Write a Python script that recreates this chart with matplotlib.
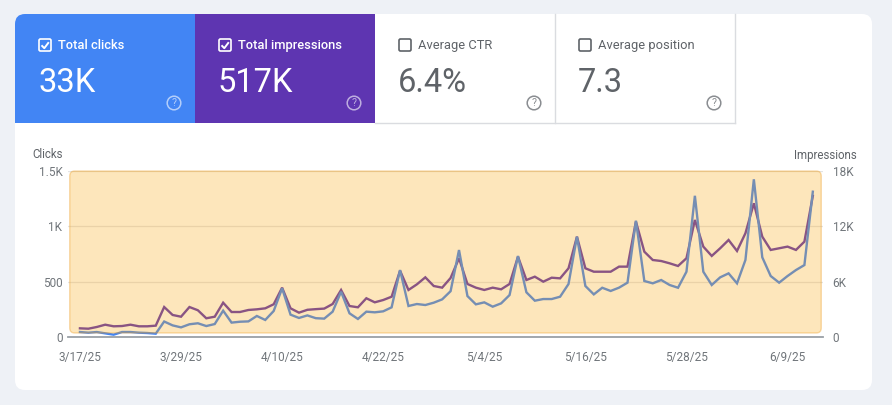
import numpy as np
import pandas as pd
import matplotlib
matplotlib.use("Agg")
import matplotlib.pyplot as plt
from matplotlib.patches import FancyBboxPatch, Rectangle, Circle

plt.rcParams['font.family'] = ['Roboto', 'DejaVu Sans']

# daily data, 3/17/25 .. 6/12/25
start_date = "2025-03-17"
clicks = [45, 39, 45, 33, 21, 45, 45, 39, 36, 30,
          140, 105, 87, 115, 124, 99, 117, 238, 130, 138,
          141, 190, 154, 235, 440, 202, 172, 195, 170, 166,
          229, 409, 214, 163, 229, 223, 232, 268, 605, 280,
          298, 289, 310, 340, 414, 786, 370, 295, 313, 274,
          304, 379, 732, 404, 328, 343, 343, 364, 479, 906,
          461, 385, 445, 416, 446, 491, 1051, 506, 485, 515,
          470, 445, 590, 1276, 590, 470, 539, 575, 485, 696,
          1425, 720, 551, 491, 551, 605, 650, 1313]
impressions = [940, 900, 1085, 1335, 1160, 1190, 1335, 1160, 1160, 1230,
               3250, 2390, 2200, 3250, 2900, 2030, 2200, 3720, 2710, 2710,
               2930, 3000, 3110, 3550, 5350, 3110, 2640, 2950, 3020, 3080,
               3580, 5100, 3360, 3220, 4200, 3760, 4010, 4370, 7190, 5100,
               5710, 6470, 5530, 5350, 6400, 8540, 5750, 5350, 5100, 5350,
               5170, 5750, 8710, 6180, 6540, 6000, 6430, 6360, 7450, 10880,
               7450, 7080, 7080, 7080, 7630, 7630, 12510, 9250, 8350, 8240,
               7990, 7700, 8540, 12690, 9800, 8790, 9620, 10520, 9330, 11250,
               14500, 10880, 9440, 9620, 9800, 9440, 10340, 15300]

x_tick_dates = ["2025-03-17", "2025-03-29", "2025-04-10", "2025-04-22",
                "2025-05-04", "2025-05-16", "2025-05-28", "2025-06-09"]
x_tick_labels = ["3/17/25", "3/29/25", "4/10/25", "4/22/25",
                 "5/4/25", "5/16/25", "5/28/25", "6/9/25"]
left_ticks = [0, 500, 1000, 1500]
left_labels = ["0", "500", "1K", "1.5K"]
right_ticks = [0, 6000, 12000, 18000]
right_labels = ["0", "6K", "12K", "18K"]

# summary cards
card_titles = ["Total clicks", "Total impressions", "Average CTR", "Average position"]
card_values = ["33K", "517K", "6.4%", "7.3"]
card_checked = [True, True, False, False]
card_colors = ["#4285f4", "#5e35b1", "white", "white"]

dates = pd.date_range(start_date, periods=len(clicks), freq="D")

W, H = 892, 405
fig = plt.figure(figsize=(W / 100, H / 100), dpi=100)
fig.patch.set_facecolor("#eef1f6")

# background / cards layer, pixel coordinates
bg = fig.add_axes([0, 0, 1, 1])
bg.set_xlim(0, W)
bg.set_ylim(H, 0)
bg.axis("off")

bg.add_patch(FancyBboxPatch((15, 14), 857, 376, boxstyle="round,pad=0,rounding_size=10",
                            fc="white", ec="none"))

tab_w, tab_h, tab_x0, tab_y0 = 180, 109, 15, 14
for i, (title, val, chk, col) in enumerate(zip(card_titles, card_values, card_checked, card_colors)):
    x0 = tab_x0 + i * tab_w
    if i == 0:
        bg.add_patch(FancyBboxPatch((x0, tab_y0), tab_w, tab_h,
                                    boxstyle="round,pad=0,rounding_size=10", fc=col, ec="none"))
        bg.add_patch(Rectangle((x0 + 12, tab_y0), tab_w - 12, tab_h, fc=col, ec="none"))
        bg.add_patch(Rectangle((x0, tab_y0 + 12), tab_w, tab_h - 12, fc=col, ec="none"))
    elif col != "white":
        bg.add_patch(Rectangle((x0, tab_y0), tab_w, tab_h, fc=col, ec="none"))
    on_color = col != "white"
    fg = "white" if on_color else "#5f6368"
    box_c = "white" if on_color else "#5f6368"
    # checkbox
    bg.add_patch(FancyBboxPatch((x0 + 24, 39), 12, 12, boxstyle="round,pad=0,rounding_size=1.5",
                                fc="none", ec=box_c, lw=1.2))
    if chk:
        bg.plot([x0 + 26.5, x0 + 29.3, x0 + 33.8], [45.3, 48.2, 42.2], color=box_c, lw=1.4,
                solid_capstyle="butt")
    bg.text(x0 + 43, 45.5, title, color=fg, fontsize=9.3, fontweight="medium" if on_color else "normal",
            va="center", ha="left")
    bg.text(x0 + 23, 92, val, color=fg, fontsize=23.5, va="baseline", ha="left")
    # help icon
    ic = (1, 1, 1, 0.6) if on_color else "#8a8d91"
    bg.add_patch(Circle((x0 + 159, 103), 6.8, fc="none", ec=ic, lw=1.1))
    bg.text(x0 + 159, 103.5, "?", color=ic, fontsize=7.5, ha="center", va="center")

# separators on white tabs
sep = "#dadce0"
bg.plot([555, 555], [14, 123], color=sep, lw=1)
bg.plot([735, 735], [14, 123], color=sep, lw=1)
bg.plot([375, 735], [123, 123], color=sep, lw=1)

# axis titles
bg.text(63, 155, "Clicks", color="#5f6368", fontsize=8.3, ha="right", va="center")
bg.text(857, 155, "Impressions", color="#5f6368", fontsize=8.3, ha="right", va="center")

# chart
left, right, bottom, top = 68, 823, 337, 171
ax = fig.add_axes([left / W, (H - bottom) / H, (right - left) / W, (bottom - top) / H])
ax2 = ax.twinx()
ax.set_zorder(ax2.get_zorder() + 1)
ax.patch.set_visible(False)
ax2.patch.set_visible(False)

ax2.plot(dates, impressions, color="#5e35b1", lw=1.7, solid_joinstyle="miter")
ax.plot(dates, clicks, color="#4285f4", lw=1.7, solid_joinstyle="miter")

x_lo = dates[0] - pd.Timedelta(hours=34)
x_hi = dates[-1] + pd.Timedelta(hours=29)
ax.set_xlim(x_lo, x_hi)
ax.set_ylim(0, 1500)
ax2.set_ylim(0, 18000)

ax.set_yticks(left_ticks)
ax.set_yticklabels(left_labels)
ax2.set_yticks(right_ticks)
ax2.set_yticklabels(right_labels)
ax.set_xticks(pd.to_datetime(x_tick_dates))
ax.set_xticklabels(x_tick_labels)

ax2.grid(axis="y", color="#e4e4e4", lw=0.9)
ax2.set_axisbelow(True)
for a in (ax, ax2):
    for s in a.spines.values():
        s.set_visible(False)
    a.tick_params(length=0, labelsize=8.5, labelcolor="#70757a")
ax.tick_params(axis="x", pad=10)
ax.tick_params(axis="y", pad=4)
ax2.tick_params(axis="y", pad=7)
ax.axhline(0, color="#9aa0a6", lw=1.3, clip_on=False)

# orange highlight over the plotting area
xs = matplotlib.dates.date2num([dates[0] - pd.Timedelta(hours=29), dates[-1] + pd.Timedelta(hours=24)])
px_per_day = (right - left) / (matplotlib.dates.date2num(x_hi) - matplotlib.dates.date2num(x_lo))
px_per_click = (bottom - top) / 1500
rnd = 5 / px_per_day
ax.add_patch(FancyBboxPatch((xs[0], 4 / px_per_click), xs[1] - xs[0], 1500 - 4 / px_per_click,
                            boxstyle="round,pad=0,rounding_size=%f" % rnd,
                            mutation_aspect=px_per_day / px_per_click,
                            fc=(0.98, 0.65, 0.05, 0.28), ec=(0.93, 0.6, 0.1, 0.35), lw=1,
                            zorder=5, clip_on=False))

fig.savefig("out.png", dpi=100, facecolor=fig.get_facecolor())
